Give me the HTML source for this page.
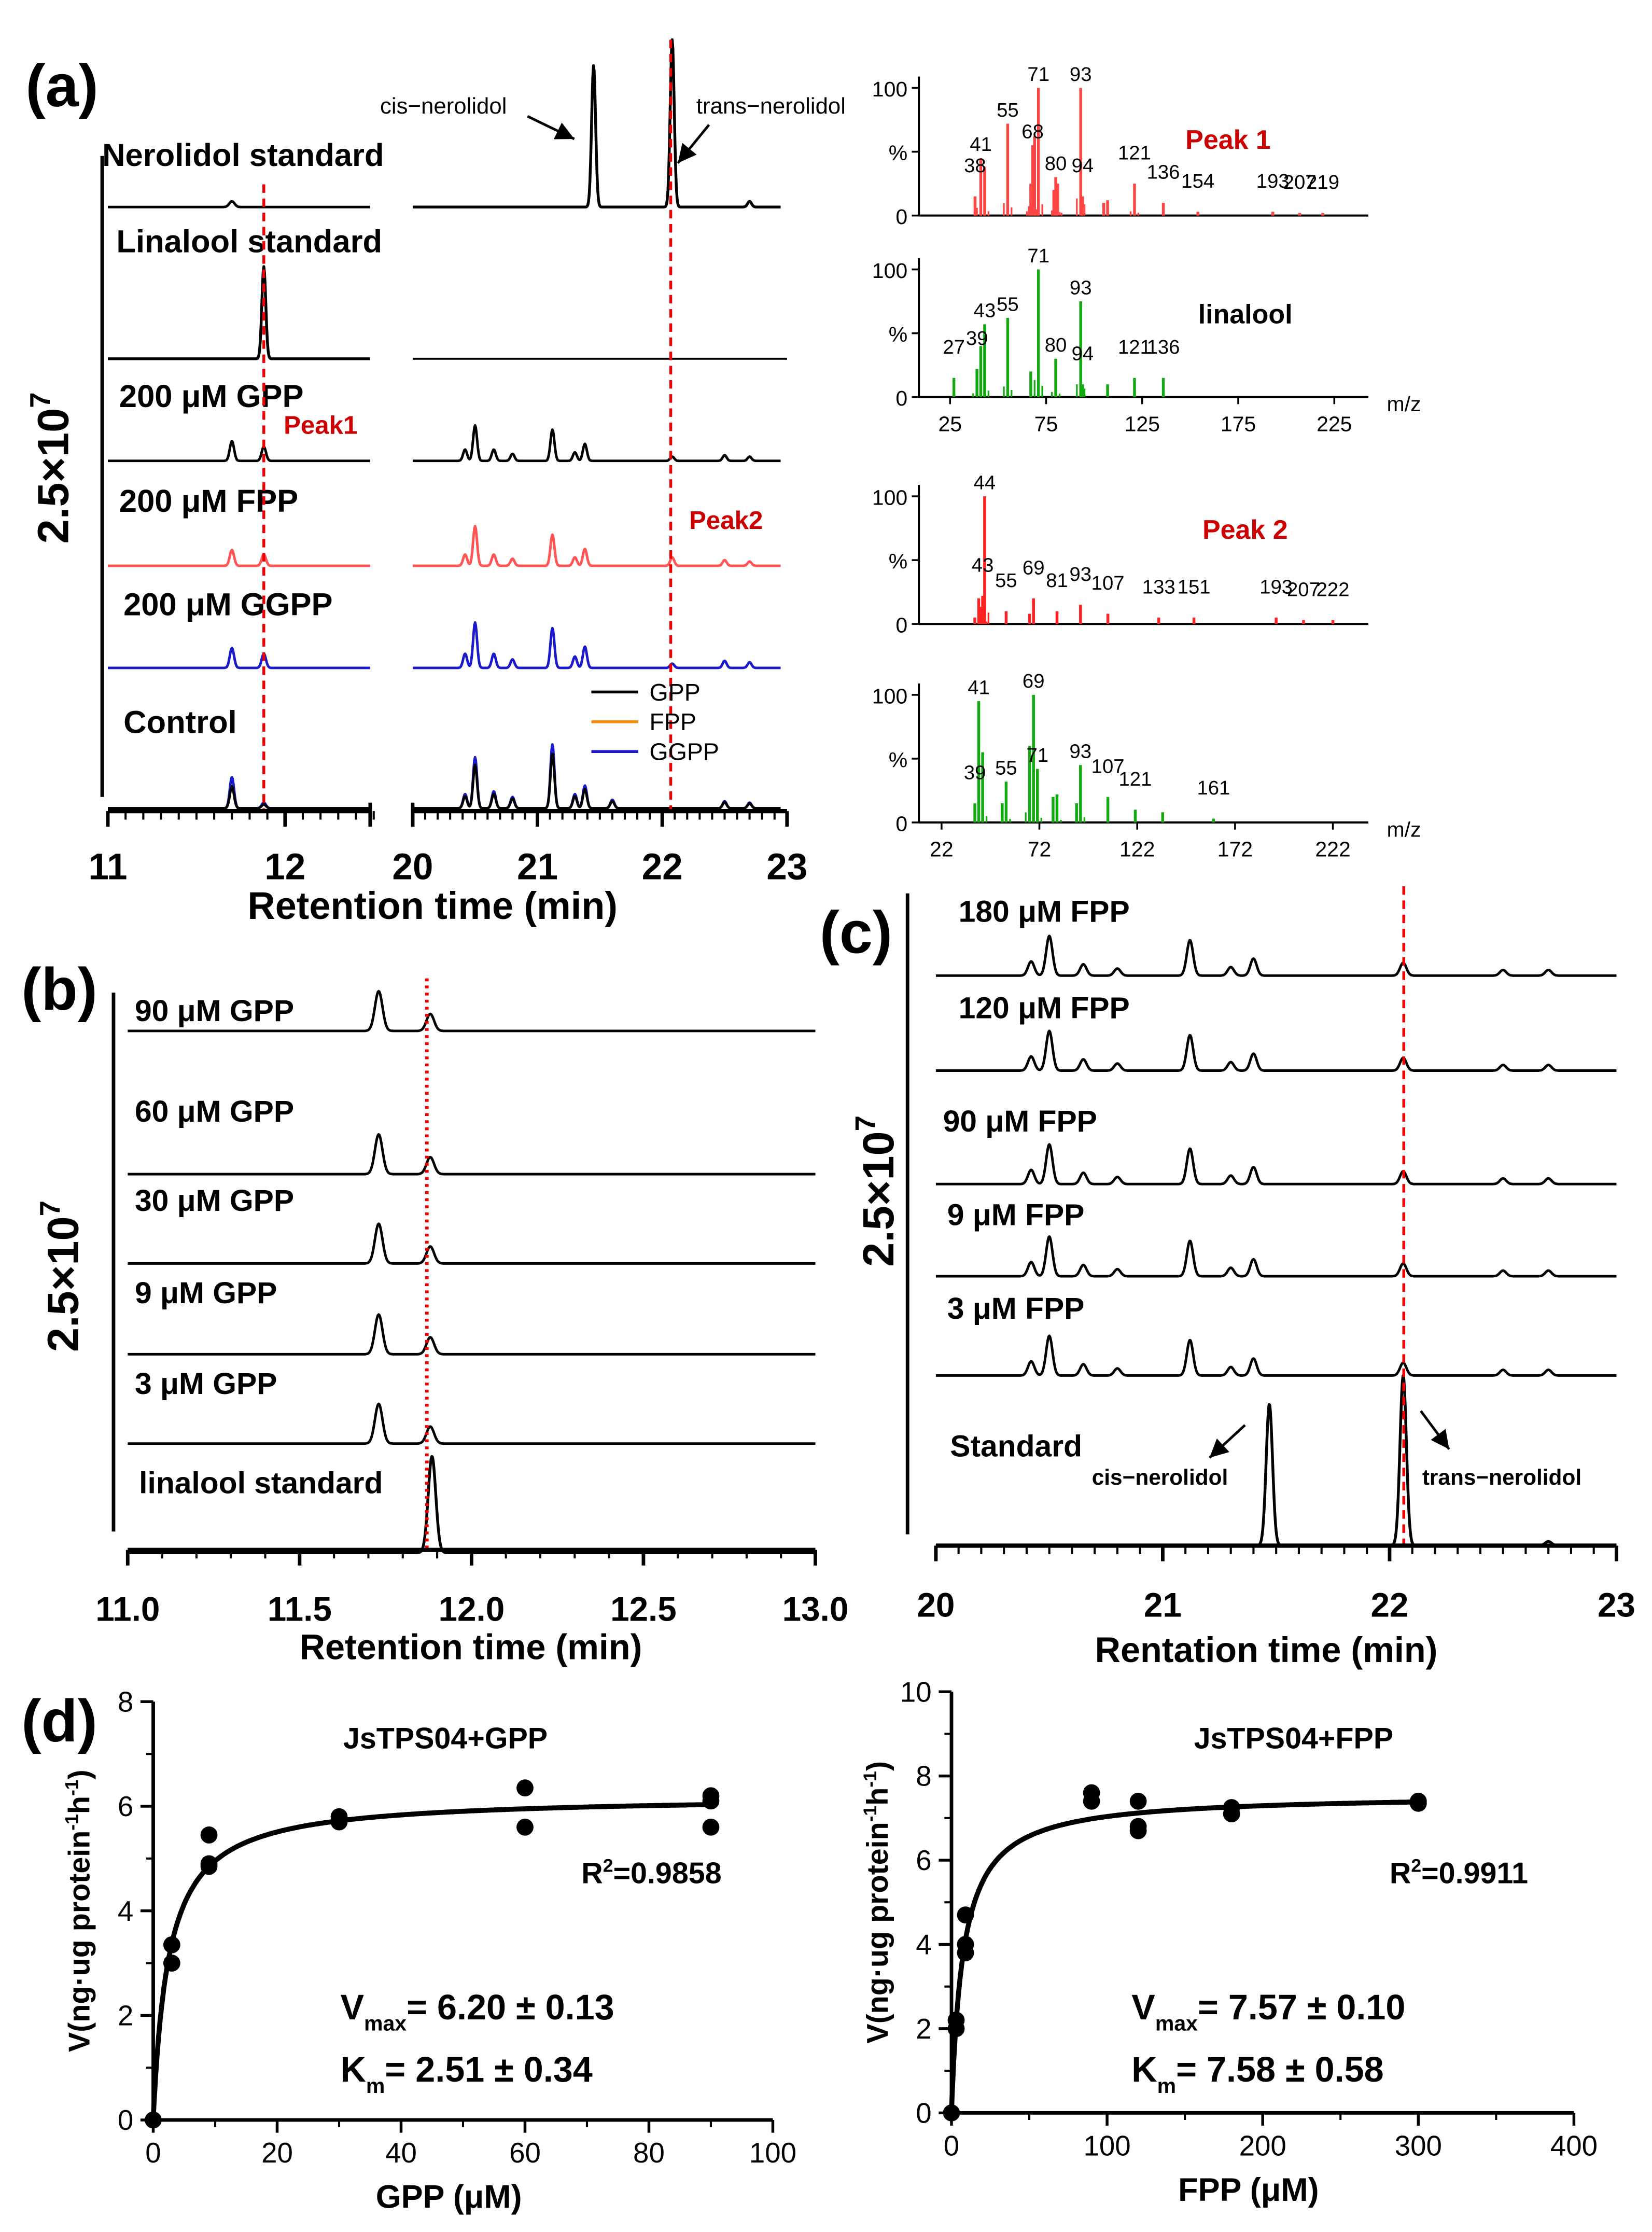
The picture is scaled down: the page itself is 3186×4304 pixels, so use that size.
<!DOCTYPE html>
<html><head><meta charset="utf-8"><style>
html,body{margin:0;padding:0;background:#fff}
svg{display:block}
text{font-family:"Liberation Sans",Arial,sans-serif}
</style></head><body>
<svg id="fig" xmlns="http://www.w3.org/2000/svg" width="3186" height="4304" viewBox="0 0 1165 1574">
<rect width="1165" height="1574" fill="#fff"/>
<g id="root"></g>
</svg>
<script>
// ---------- data ----------
const aLeftPeaksGPP=[[11.7,14],[11.88,10]];
const aRightPeaksGPP=[[20.42,8],[20.5,25],[20.65,8],[20.8,5],[21.12,22],[21.3,6],[21.38,12],[22.08,3],[22.5,4],[22.7,3]];
const aRightPeaksFPP=[[20.42,8],[20.5,28],[20.65,8],[20.8,5],[21.12,22],[21.3,6],[21.38,12],[22.08,6],[22.5,4],[22.7,3]];
const aRightPeaksGGPP=[[20.42,10],[20.5,32],[20.65,10],[20.8,6],[21.12,28],[21.3,8],[21.38,15],[22.08,3],[22.5,5],[22.7,4]];
const aControlRight=[[20.42,10],[20.5,36],[20.65,12],[20.8,8],[21.12,45],[21.3,10],[21.38,16],[21.6,6],[22.5,5],[22.7,4]];
const aControlLeft=[[11.7,22],[11.88,4]];
const aNerolidolPeaks=[[11.7,4],[21.45,100],[22.08,118],[22.7,4]];
const bPeaks=[[11.73,28],[11.88,12]];
const bLabels=["90 μM GPP","60 μM GPP","30 μM GPP","9 μM GPP","3 μM GPP"];
const cLabels=["180 μM FPP","120 μM FPP","90 μM FPP","9 μM FPP","3 μM FPP"];
const cPeaks=[[20.42,10],[20.5,28],[20.65,8],[20.8,5],[21.12,25],[21.3,6],[21.4,12],[22.06,9],[22.5,4],[22.7,4]];
const cStdPeaks=[[21.47,100],[22.06,120],[22.7,3]];
const ms1=[[38,15],[41,45],[43,38],[55,72],[67,25],[68,55],[69,62],[71,100],[79,20],[80,30],[81,25],[93,100],[94,15],[105,10],[107,12],[121,25],[136,10],[154,3],[193,3],[207,2],[219,2]];
const ms2=[[27,15],[39,22],[41,40],[43,57],[55,62],[67,20],[71,100],[80,30],[93,75],[94,10],[107,10],[121,15],[136,15]];
const ms3=[[39,5],[41,20],[43,22],[44,100],[55,10],[67,8],[69,20],[81,10],[93,15],[107,8],[133,5],[151,5],[193,5],[207,3],[222,3]];
const ms4=[[39,15],[41,95],[43,55],[53,15],[55,32],[67,60],[69,100],[71,42],[79,20],[81,22],[91,15],[93,45],[107,20],[121,10],[135,8],[161,3]];
const gppConc=[0,3,3,9,9,9,30,30,60,60,90,90,90];
const gppV=[0,3.35,3.0,4.85,5.45,4.9,5.7,5.8,6.35,5.6,6.1,5.6,6.2];
const fppConc=[0,3,3,9,9,9,90,90,120,120,120,180,180,300,300];
const fppV=[0,2.0,2.2,3.8,4.0,4.7,7.4,7.6,7.4,6.7,6.8,7.1,7.25,7.35,7.4];
const gppFit=[6.20,2.51];
const fppFit=[7.57,7.58];

// ---------- helpers ----------
const NS="http://www.w3.org/2000/svg";
const root=document.getElementById('root');
function el(tag,attrs,parent){const e=document.createElementNS(NS,tag);for(const k in attrs)e.setAttribute(k,attrs[k]);(parent||root).appendChild(e);return e;}
function txt(x,y,s,size,opts,name){opts=opts||{};const t=el('text',{x:x,y:y,'font-size':size,'font-weight':opts.w||'bold',fill:opts.fill||'#000','text-anchor':opts.a||'start'});if(opts.rot)t.setAttribute('transform','rotate(-90 '+x+' '+y+')');t.textContent=s;


return t;}
function line(x1,y1,x2,y2,stroke,w,dash,name){const l=el('line',{x1:x1,y1:y1,x2:x2,y2:y2,stroke:stroke,'stroke-width':w});if(dash)l.setAttribute('stroke-dasharray',dash);


return l;}
function trace(xs,t0,t1,base,peaks,sig,color,w,name,scale){scale=scale||1;let d='';const px0=xs(t0),px1=xs(t1);
 for(let px=px0;px<=px1;px+=0.5){const t=t0+(t1-t0)*(px-px0)/(px1-px0);let y=0;for(const p of peaks){y+=p[1]*scale*Math.exp(-Math.pow((t-p[0])/sig,2)/2);}d+=(d?'L':'M')+px.toFixed(1)+','+(base-y).toFixed(1);}
 const p=el('path',{d:d,fill:'none',stroke:color,'stroke-width':w||1.8,'stroke-linejoin':'round'});
 
 }
function arrow(x1,y1,x2,y2,name){line(x1,y1,x2,y2,'#000',1.8,null,name);const a=Math.atan2(y2-y1,x2-x1),L=13,W=6.5;
 const p=el('polygon',{points:`${x2},${y2} ${x2-L*Math.cos(a)+W*Math.sin(a)},${y2-L*Math.sin(a)-W*Math.cos(a)} ${x2-L*Math.cos(a)-W*Math.sin(a)},${y2-L*Math.sin(a)+W*Math.cos(a)}`,fill:'#000'});
 
 }
function sci(x,y){const t=el('text',{x:x,y:y,'font-size':31,'font-weight':'bold',transform:'rotate(-90 '+x+' '+y+')','text-anchor':'middle'});
 
 
 t.innerHTML='2.5×10<tspan font-size="20" dy="-13">7</tspan>';}

// ---------- panel (a) chromatograms ----------
txt(18,75,'(a)',42,{},'panel-a-label');
const xl=t=>76+(t-11)*125, xr=t=>291+(t-20)*88;
line(72,110,72,562,'#000',2.5,null,'a-scale-bar');
sci(48,330);
trace(xl,11,12.48,146,[[11.7,4]],0.015,'#000',1.8,'a-nerolidol-left');
trace(xr,20,22.95,146,aNerolidolPeaks.slice(1),0.016,'#000',2,'a-nerolidol-right',1);
trace(xl,11,12.48,253,[[11.88,65]],0.011,'#000',2,'a-linalool-left');
line(291,253,555,253,'#000',1.4,null,'a-linalool-right');
trace(xl,11,12.48,325,aLeftPeaksGPP,0.012,'#000',1.8,'a-gpp-left');
trace(xr,20,22.95,325,aRightPeaksGPP,0.016,'#000',1.8,'a-gpp-right');
trace(xl,11,12.48,399,aLeftPeaksGPP.map(p=>[p[0],p[1]*0.8]),0.012,'#f55',1.8,'a-fpp-left');
trace(xr,20,22.95,399,aRightPeaksFPP,0.016,'#f55',1.8,'a-fpp-right');
trace(xl,11,12.48,471,aLeftPeaksGPP,0.012,'#1a1acc',1.8,'a-ggpp-left');
trace(xr,20,22.95,471,aRightPeaksGGPP,0.016,'#1a1acc',1.8,'a-ggpp-right');
trace(xl,11,12.48,570,aControlLeft,0.012,'#1a1acc',1.8,'a-control-ggpp-left');
trace(xl,11,12.48,570,aControlLeft.map(p=>[p[0],p[1]*0.7]),0.012,'#000',1.8,'a-control-gpp-left');
trace(xr,20,22.95,570,aControlRight,0.016,'#1a1acc',1.8,'a-control-ggpp-right');
trace(xr,20,22.95,570,aControlRight.map(p=>[p[0],p[1]*0.85]),0.016,'#000',1.8,'a-control-gpp-right');
const aLab=[["Nerolidol standard",72,117],["Linalool standard",82,178],["200 μM GPP",84,287],["200 μM FPP",84,361],["200 μM GGPP",87,434],["Control",87,517]];
aLab.forEach(l=>txt(l[1],l[2],l[0],22.5,{},'a-trace-label'));
txt(200,306,'Peak1',18,{fill:'#c00'},'peak1-label');
txt(486,373,'Peak2',18,{fill:'#c00'},'peak2-label');
line(186,130,186,572,'#e00',2,'6,4','a-dashed-peak1');
line(473,28,473,572,'#e00',2,'6,4','a-dashed-peak2');
txt(268,80,'cis−nerolidol',16,{w:'normal'},'cis-label');
arrow(372,82,405,98,'cis-arrow');
txt(491,80,'trans−nerolidol',16,{w:'normal'},'trans-label');
arrow(500,88,478,115,'trans-arrow');
[['GPP','#000',488],['FPP','#f80',509],['GGPP','#1a1acc',530]].forEach(l=>{line(417,l[2],450,l[2],l[1],2,null,'legend-line');txt(458,l[2]+6,l[0],17,{w:'normal'},'legend-text');});
// x axis
line(76,572,261,572,'#000',3,null,'a-x-axis-left');
line(291,572,555,572,'#000',3,null,'a-x-axis-right');
[11,12].forEach(t=>{line(xl(t),572,xl(t),583,'#000',2.5);txt(xl(t),620,String(t),26,{a:'middle'},'a-x-tick');});
for(let t=11.1;t<12.5;t+=0.1){line(xl(t),572,xl(t),578,'#000',1.5,null,'a-minor-tick');}
line(261,566,261,583,'#000',2.5);line(291,566,291,583,'#000',2.5);
[20,21,22,23].forEach(t=>{line(xr(t),572,xr(t),583,'#000',2.5);txt(xr(t),620,String(t),26,{a:'middle'},'a-x-tick');});
for(let t=20.1;t<23;t+=0.1){line(xr(t),572,xr(t),578,'#000',1.5,null,'a-minor-tick');}
txt(305,648,'Retention time (min)',27,{a:'middle'},'a-x-title');

// ---------- mass spectra ----------
function spectrum(y100,y0,mz0,px0,pxPer,data,color,labels,axis,name){
 const xs=m=>px0+(m-mz0)*pxPer;
 line(648,y100-8,648,y0,'#000',1.5,null,name+'-y-axis');
 line(648,y0,965,y0,'#000',1.5,null,name+'-x-axis');
 [[y100,'100'],[(y100+y0)/2,'%'],[y0,'0']].forEach(v=>{line(643,v[0],648,v[0],'#000',1.3);txt(640,v[0]+6,v[1],15,{w:'normal',a:'end'},'ms-y-tick');});
 data.forEach(d=>{line(xs(d[0]),y0,xs(d[0]),y0-d[1]/100*(y0-y100),color,2,null,name+'-bar');});
 data.forEach(d=>{if(d[1]>20){line(xs(d[0]-2),y0,xs(d[0]-2),y0-d[1]*0.12,color,1.2,null,name+'-bar');line(xs(d[0]+2),y0,xs(d[0]+2),y0-d[1]*0.08,color,1.2,null,name+'-bar');}});
 labels.forEach(m=>{const d=data.find(q=>q[0]===m);if(!d)return;const h=d[1]/100*(y0-y100);txt(xs(m),y0-h-5-(h<25?12:0),String(m),14,{w:'normal',a:'middle'},'ms-peak-label');});
 if(axis){axis.forEach(t=>{line(xs(t),y0,xs(t),y0+5,'#000',1.3);txt(xs(t),y0+24,String(t),15,{w:'normal',a:'middle'},'ms-x-tick');});txt(978,y0+10,'m/z',15,{w:'normal'},'ms-mz');}
}
spectrum(62,152,25,670,1.355,ms1,'#f44',[38,41,55,68,71,80,93,94,121,136,154,193,207,219],null,'ms-peak1');
txt(836,105,'Peak 1',19,{fill:'#c00'},'ms-peak1-title');
spectrum(190,280,25,670,1.355,ms2,'#1a1',[27,39,43,55,71,80,93,94,121,136],[25,75,125,175,225],'ms-linalool');
txt(845,228,'linalool',19,{},'ms-linalool-title');
spectrum(350,440,22,664,1.38,ms3,'#f22',[43,44,55,69,81,93,107,133,151,193,207,222],null,'ms-peak2');
txt(848,380,'Peak 2',19,{fill:'#c00'},'ms-peak2-title');
spectrum(490,580,22,664,1.38,ms4,'#1a1',[39,41,55,69,71,93,107,121,161],[22,72,122,172,222],'ms-nerolidol');

// ---------- panel (b) ----------
txt(15,712,'(b)',42,{},'panel-b-label');
const xb=t=>90+(t-11)*242.5;
line(80,700,80,1080,'#000',2.5,null,'b-scale-bar');
sci(55,900);
const bBases=[727,828,891,955,1018];
bBases.forEach((b,i)=>{trace(xb,11,13,b,bPeaks,0.011,'#000',1.8,'b-trace');txt(95,[720,791,854,919,983][i],bLabels[i],21.5,{},'b-trace-label');});
trace(xb,11,13,1095,[[11.885,68]],0.011,'#000',2,'b-linalool-std');
txt(98,1053,'linalool standard',21.5,{},'b-std-label');
line(301,690,301,1093,'#e00',2.5,'2,3','b-dotted');
line(90,1093,575,1093,'#000',3,null,'b-x-axis');
[11.0,11.5,12.0,12.5,13.0].forEach(t=>{line(xb(t),1093,xb(t),1104,'#000',2.5);txt(xb(t),1143,t.toFixed(1),24,{a:'middle'},'b-x-tick');});
for(let t=11.1;t<13;t+=0.1){line(xb(t),1093,xb(t),1099,'#000',1.5);}
txt(332,1170,'Retention time (min)',25,{a:'middle'},'b-x-title');

// ---------- panel (c) ----------
txt(578,672,'(c)',42,{},'panel-c-label');
const xc=t=>660+(t-20)*160;
line(640,630,640,1082,'#000',2.5,null,'c-scale-bar');
sci(630,840);
const cBases=[688,755,835,900,970];
cBases.forEach((b,i)=>{trace(xc,20,23,b,cPeaks,0.014,'#000',1.8,'c-trace');});
[[676,650],[676,718],[665,798],[668,864],[668,930]].forEach((p,i)=>txt(p[0],p[1],cLabels[i],21.5,{},'c-trace-label'));
trace(xc,20,23,1090,cStdPeaks,0.014,'#000',2,'c-standard');
txt(670,1027,'Standard',21.5,{},'c-std-label');
txt(770,1047,'cis−nerolidol',15.5,{},'c-cis-label');
arrow(878,1005,853,1028,'c-cis-arrow');
txt(1003,1047,'trans−nerolidol',15.5,{},'c-trans-label');
arrow(1002,995,1022,1022,'c-trans-arrow');
line(990,625,990,1090,'#e00',2,'6,4','c-dashed');
line(660,1090,1140,1090,'#000',3,null,'c-x-axis');
[20,21,22,23].forEach(t=>{line(xc(t),1090,xc(t),1101,'#000',2.5);txt(xc(t),1140,String(t),24,{a:'middle'},'c-x-tick');});
for(let t=20.1;t<23;t+=0.1){line(xc(t),1090,xc(t),1096,'#000',1.5);}
txt(893,1172,'Rentation time (min)',25,{a:'middle'},'c-x-title');

// ---------- panel (d) ----------
txt(15,1228,'(d)',42,{},'panel-d-label');
function kinetics(x0,x1,xmax,y0,y1,ymax,xticks,yticks,conc,v,fit,xtitle,title,r2,offs,name){
 const xs=c=>x0+(x1-x0)*c/xmax, ys=val=>y0-(y0-y1)*val/ymax;
 line(x0,y0,x1,y0,'#000',2.5,null,name+'-x-axis');line(x0,y0,x0,y1,'#000',2.5,null,name+'-y-axis');
 xticks.forEach(t=>{line(xs(t),y0,xs(t),y0+9,'#000',2);txt(xs(t),y0+30,String(t),20,{w:'normal',a:'middle'},name+'-x-tick');});
 for(let i=0;i<xticks.length-1;i++){const m=(xticks[i]+xticks[i+1])/2;line(xs(m),y0,xs(m),y0+5,'#000',1.5);}
 yticks.forEach(t=>{line(x0-9,ys(t),x0,ys(t),'#000',2);txt(x0-14,ys(t)+7,String(t),20,{w:'normal',a:'end'},name+'-y-tick');});
 for(let i=0;i<yticks.length-1;i++){const m=(yticks[i]+yticks[i+1])/2;line(x0-5,ys(m),x0,ys(m),'#000',1.5);}
 let d='';for(let c=0;c<=conc[conc.length-1];c+=xmax/800){const val=fit[0]*c/(fit[1]+c);d+=(d?'L':'M')+xs(c).toFixed(1)+','+ys(val).toFixed(1);}
 const p=el('path',{d:d,fill:'none',stroke:'#000','stroke-width':3.5});
 
 
 conc.forEach((c,i)=>{const ci=el('circle',{cx:xs(c),cy:ys(v[i]),r:6,fill:'#000'});
  
  });
 txt(x0+(x1-x0)/2-10,y0+62,xtitle,23,{a:'middle'},name+'-x-title');
 const yt=el('text',{x:x0-45,y:(y0+y1)/2,'font-size':21,'font-weight':'bold','text-anchor':'middle',transform:`rotate(-90 ${x0-45} ${(y0+y1)/2})`});
 
 
 yt.innerHTML='V(ng·ug protein<tspan font-size="13" dy="-8">-1</tspan><tspan dy="8">h</tspan><tspan font-size="13" dy="-8">-1</tspan><tspan dy="8">)</tspan>';
 txt(offs[0],1233,title,21,{},name+'-title');
 const r=el('text',{x:offs[1],y:1328,'font-size':21,'font-weight':'bold'});r.innerHTML='R<tspan font-size="13" dy="-8">2</tspan><tspan dy="8">='+r2+'</tspan>';
 
 
 const vm=el('text',{x:offs[2],y:1424,'font-size':25,'font-weight':'bold'});vm.innerHTML='V<tspan font-size="15" dy="8">max</tspan><tspan dy="-8">= '+fit[0].toFixed(2)+' ± '+offs[3]+'</tspan>';
 
 
 const km=el('text',{x:offs[2],y:1468,'font-size':25,'font-weight':'bold'});km.innerHTML='K<tspan font-size="15" dy="8">m</tspan><tspan dy="-8">= '+fit[1].toFixed(2)+' ± '+offs[4]+'</tspan>';
 
 
}
kinetics(108,545,100,1495,1200,8,[0,20,40,60,80,100],[0,2,4,6,8],gppConc,gppV,gppFit,'GPP (μM)','JsTPS04+GPP','0.9858',[242,410,240,'0.13','0.34'],'gpp');
kinetics(671,1110,400,1490,1193,10,[0,100,200,300,400],[0,2,4,6,8,10],fppConc,fppV,fppFit,'FPP (μM)','JsTPS04+FPP','0.9911',[842,980,798,'0.10','0.58'],'fpp');
</script>
</body></html>
